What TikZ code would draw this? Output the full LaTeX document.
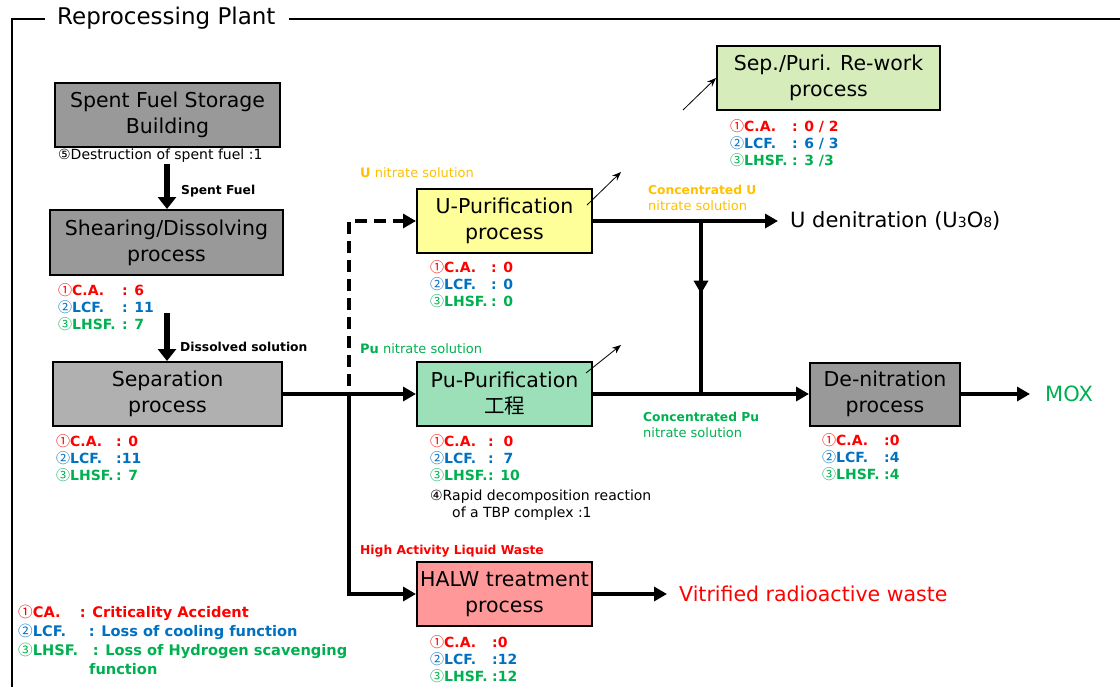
\documentclass[tikz,border=0pt]{standalone}
\usepackage{fontspec}
\setmainfont{DejaVu Sans}
\newfontfamily\jpfont{Noto Sans CJK JP}
\usetikzlibrary{arrows.meta,calc}

\definecolor{cared}{HTML}{FF0000}
\definecolor{lcfblue}{HTML}{0070C0}
\definecolor{lhsfgreen}{HTML}{00B050}
\definecolor{uorange}{HTML}{FFC000}
\definecolor{boxgray}{HTML}{999999}
\definecolor{sepgray}{HTML}{B0B0B0}
\definecolor{uyellow}{HTML}{FFFF99}
\definecolor{pugreen}{HTML}{9CE0B9}
\definecolor{reworkgreen}{HTML}{D6EDBB}
\definecolor{halwred}{HTML}{FF9999}

% circled digit, set full width
\newcommand\cdig[1]{{\jpfont\mdseries #1}}
% one coloured risk line: colour, circled digit, label width, label, value
\newcommand\riskline[5]{{\color{#1}\cdig{#2}\textbf{\makebox[#3][l]{#4}#5}}}
% the three risk lines below a process box
\newcommand\riskblock[4]{\riskline{cared}{①}{#1}{C.A.}{#2}\\\riskline{lcfblue}{②}{#1}{LCF.}{#3}\\\riskline{lhsfgreen}{③}{#1}{LHSF.}{#4}}

\tikzset{
  proc/.style={draw=black, line width=2pt, align=center, inner sep=0pt,
    font=\fontsize{20.5}{26}\selectfont},
  flow/.style={line width=4pt, -{Triangle[length=13pt,width=14pt]}},
  bigflow/.style={line width=6.5pt, -{Triangle[length=12pt,width=18pt]}},
  thinarr/.style={line width=0.8pt, -{Stealth[length=9pt,width=7pt]}},
  risk/.style={align=left, inner sep=0pt, anchor=west, font=\fontsize{14}{17}\selectfont},
  note/.style={inner sep=0pt, anchor=west, font=\fontsize{13}{16}\selectfont},
  boldnote/.style={note, font=\bfseries\fontsize{12.3}{15}\selectfont},
  result/.style={inner sep=0pt, anchor=west, font=\fontsize{21}{26}\selectfont},
  frameline/.style={line width=1.5pt}
}

\begin{document}
\begin{tikzpicture}[x=1pt,y=-1pt]
\useasboundingbox (0,0) rectangle (1120,686);

% plant frame with its title
\node[inner sep=0pt, anchor=west, font=\fontsize{23}{26}\selectfont] (title) at (57,18.5) {Reprocessing Plant};
\draw[frameline] ($(title.west)+(-12,0.5)$) -- (12,19) -- (12,690);
\draw[frameline] ($(title.east)+(13,0.5)$) -- (1125,19);

% process boxes
\node[proc, fill=boxgray, minimum width=225pt, minimum height=64pt] (sfsb) at (167.5,115) {Spent Fuel Storage\\Building};
\node[proc, fill=boxgray, minimum width=233pt, minimum height=65pt] (shear) at (166.5,242.5) {Shearing/Dissolving\\process};
\node[proc, fill=sepgray, minimum width=229pt, minimum height=64pt] (sep) at (167.5,394) {Separation\\process};
\node[proc, fill=uyellow, minimum width=175pt, minimum height=64pt] (upur) at (504.5,221) {U-Purification\\process};
\node[proc, fill=pugreen, minimum width=175pt, minimum height=64pt] (pupur) at (504.5,394) {Pu-Purification\\{\jpfont 工程}};
\node[proc, fill=halwred, minimum width=175pt, minimum height=64pt] (halw) at (504.5,594) {HALW treatment\\process};
\node[proc, fill=boxgray, minimum width=150pt, minimum height=63pt] (denit) at (885,394) {De-nitration\\process};
\node[proc, fill=reworkgreen, minimum width=223pt, minimum height=64pt] (rework) at (828.5,78) {Sep./Puri. Re-work\\process};

% products
\node[result] (udn) at (790,221) {U denitration (U{\fontsize{14}{14}\selectfont 3}O{\fontsize{14}{14}\selectfont 8})};
\node[result, text=lhsfgreen] (mox) at (1045,394) {MOX};
\node[result, text=cared, font=\fontsize{20.5}{26}\selectfont] (vit) at (679,594) {Vitrified radioactive waste};

% risk counts
\node[risk] (rshear) at (58,307) {\riskblock{50pt}{: 6}{: 11}{: 7}};
\node[risk] (rsep) at (56,458) {\riskblock{46pt}{: 0}{:11}{: 7}};
\node[risk] (rupur) at (430,284) {\riskblock{47pt}{: 0}{: 0}{: 0}};
\node[risk] (rpupur) at (430,458) {\riskblock{44pt}{:\ \ 0}{:\ \ 7}{: 10}};
\node[risk] (rdenit) at (822,457) {\riskblock{48pt}{:0}{:4}{:4}};
\node[risk] (rhalw) at (430,659) {\riskblock{48pt}{:0}{:12}{:12}};
\node[risk] (rrework) at (730,143) {\riskblock{48pt}{: 0 / 2}{: 6 / 3}{: 3 /3}};

% other event notes
\node[risk] (destr) at (58,156) {⑤Destruction of spent fuel :1};
\node[risk] (tbp) at (430,505.5) {④Rapid decomposition reaction\\\hspace*{22pt}of a TBP complex :1};

% stream labels
\node[boldnote] (lsf) at (181,191) {Spent Fuel};
\node[boldnote] (lds) at (180,347) {Dissolved solution};
\node[note, text=uorange] (lun) at (360,173) {\textbf{U} nitrate solution};
\node[note, text=lhsfgreen] (lpun) at (360,349) {\textbf{Pu} nitrate solution};
\node[boldnote, text=cared] (lhalw) at (360,551) {High Activity Liquid Waste};
\node[note, text=uorange, align=left] (lcu) at (648,197.5) {{\bfseries\fontsize{12.3}{15}\selectfont Concentrated U}\\nitrate solution};
\node[note, text=lhsfgreen, align=left] (lcpu) at (643,425) {{\bfseries\fontsize{12.3}{15}\selectfont Concentrated Pu}\\nitrate solution};

% legend
\node[inner sep=0pt, anchor=west, align=left, font=\bfseries\fontsize{14.6}{19}\selectfont] (legend) at (18,639.5)
  {{\color{cared}\cdig{①}\makebox[47pt][l]{CA.}: Criticality Accident}\\
   {\color{lcfblue}\cdig{②}\makebox[56pt][l]{LCF.}: Loss of cooling function}\\
   {\color{lhsfgreen}\cdig{③}\makebox[60pt][l]{LHSF.}: Loss of Hydrogen scavenging}\\
   {\color{lhsfgreen}\hspace*{71pt}function}};

% main flow
\coordinate (sf0) at (167,164);
\coordinate (ds0) at (167,313);
\draw[bigflow] (sf0) -- (sf0 |- shear.north);
\draw[bigflow] (ds0) -- (ds0 |- sep.north);

\coordinate (j1) at (349,394);
\draw[flow] (sep.east) -- (pupur.west);
\draw[flow, dash pattern=on 12pt off 7pt] ($(j1)+(0,-8)$) |- (upur.west);
\draw[flow] (j1) |- (halw.west);

\coordinate (j2) at (701,221);
\coordinate (j3) at (701,394);
\draw[flow] (upur.east) -- ($(udn.west)+(-12,0)$);
\draw[line width=4pt] (j2) -- (j3);
\draw[flow] (j2) -- ($(j2)!0.42!(j3)$);
\draw[flow] (pupur.east) -- (denit.west);
\draw[flow] (denit.east) -- ($(mox.west)+(-15,0)$);
\draw[flow] (halw.east) -- ($(vit.west)+(-12,0)$);

% rework links
\draw[thinarr] ($(upur.north east)+(-6,17)$) -- ++(34,-33);
\draw[thinarr] ($(pupur.north east)+(-7,12)$) -- ++(35,-28);
\draw[thinarr] ($(rework.west)+(-33,32)$) -- (rework.west);
\end{tikzpicture}
\end{document}
